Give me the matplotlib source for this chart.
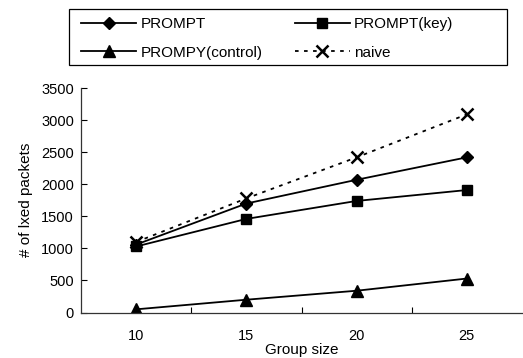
import matplotlib
matplotlib.use('Agg')
import matplotlib.pyplot as plt
from matplotlib.patches import Rectangle

plt.rcParams['font.family'] = ['Liberation Sans', 'DejaVu Sans']

# Data
group_size = [10, 15, 20, 25]
prompt = [1060, 1700, 2070, 2420]
prompt_key = [1030, 1460, 1740, 1910]
prompt_control = [50, 200, 340, 530]
naive = [1100, 1780, 2420, 3090]
y_ticks = [0, 500, 1000, 1500, 2000, 2500, 3000, 3500]

fig = plt.figure(figsize=(5.23, 3.58), dpi=100)
ax = fig.add_axes([0.155, 0.127, 0.843, 0.627])

l1, = ax.plot(group_size, prompt, color='black', lw=1.3, marker='D', ms=6.5)
l2, = ax.plot(group_size, prompt_key, color='black', lw=1.3, marker='s', ms=7)
l3, = ax.plot(group_size, prompt_control, color='black', lw=1.3, marker='^', ms=8)
l4, = ax.plot(group_size, naive, color='black', lw=1.3, ls=(0, (2, 3)),
              marker='x', ms=8, mew=1.8)

ax.set_xlim(7.5, 27.5)
ax.set_ylim(0, 3500)
ax.set_xticks(group_size)
ax.set_xticks([12.5, 17.5, 22.5], minor=True)
ax.set_yticks(y_ticks)
ax.tick_params(axis='x', which='major', length=0, labelsize=10.5, pad=12)
ax.tick_params(axis='x', which='minor', direction='in', length=4, width=0.8)
ax.tick_params(axis='y', direction='in', length=4, width=0.8, labelsize=10.5, pad=5)

for side in ['top', 'right']:
    ax.spines[side].set_visible(False)
for side in ['left', 'bottom']:
    ax.spines[side].set_linewidth(0.9)
    ax.spines[side].set_color('#333333')

ax.set_xlabel('Group size', fontsize=11, labelpad=0)
ax.set_ylabel('# of lxed packets', fontsize=11, labelpad=6)

# legend (column-major order) with a separately drawn frame
leg = fig.legend([l1, l3, l2, l4],
                 ['PROMPT', 'PROMPY(control)', 'PROMPT(key)', 'naive'],
                 ncol=2, loc='upper left',
                 bbox_to_anchor=(81 / 523, 1 - 17 / 358),
                 fontsize=11, handlelength=3.6, handletextpad=0.3,
                 borderpad=0, borderaxespad=0, labelspacing=0.95,
                 columnspacing=2.1, frameon=False)
fig.patches.append(Rectangle((69 / 523, 1 - 65 / 358), 438 / 523, 56 / 358,
                             transform=fig.transFigure, fill=False,
                             edgecolor='black', lw=0.9))

fig.savefig('out.png', dpi=100)
